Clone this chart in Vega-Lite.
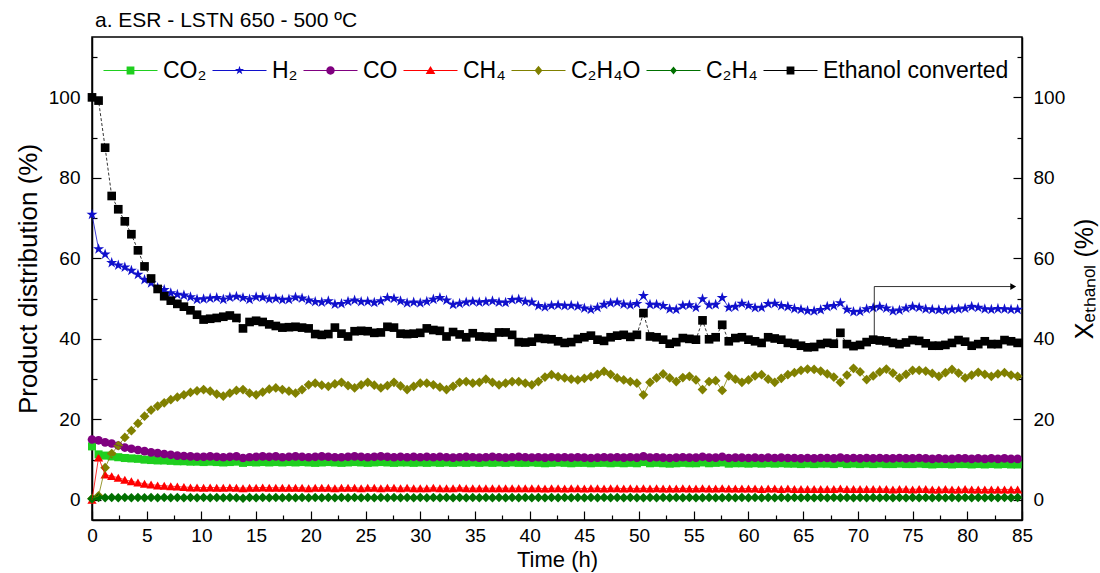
{
  "$schema": "https://vega.github.io/schema/vega-lite/v6.json",
  "width": 930,
  "height": 483,
  "autosize": "none",
  "padding": {"left": 92, "top": 37, "right": 78, "bottom": 53},
  "background": "white",
  "title": {"text": "a. ESR - LSTN 650 - 500 ºC", "anchor": "start", "frame": "group", "fontSize": 21, "fontWeight": "normal", "font": "Liberation Sans", "color": "black", "offset": 6, "dx": 3},
  "config": {
    "view": {"stroke": "black", "strokeWidth": 1.5},
    "font": "Liberation Sans",
    "axis": {"grid": false, "domainColor": "black", "domainWidth": 1.5, "tickColor": "black", "tickWidth": 1.2, "labelColor": "black", "labelFontSize": 19, "labelFont": "Liberation Sans", "titleFont": "Liberation Sans", "titleColor": "black", "titleFontWeight": "normal", "labelFlush": false, "labelOverlap": false}
  },
  "data": {"values": [
{"t":0,"a":13.3,"b":70.9,"c":15.0,"d":0.0,"e":0.3,"f":0.3,"x":100},
{"t":0.6,"a":11.3,"b":62.3,"c":14.8,"d":10.5,"e":1.0,"f":0.6,"x":99.2},
{"t":1.2,"a":11.0,"b":61.0,"c":14.3,"d":6.3,"e":8.0,"f":0.5,"x":87.5},
{"t":1.8,"a":10.8,"b":58.9,"c":14.0,"d":5.9,"e":11.5,"f":0.6,"x":75.5},
{"t":2.4,"a":10.6,"b":58.3,"c":13.5,"d":5.5,"e":13.5,"f":0.5,"x":72.2},
{"t":3.0,"a":10.4,"b":57.8,"c":13.0,"d":5.0,"e":15.5,"f":0.6,"x":69.2},
{"t":3.6,"a":10.3,"b":57.0,"c":12.7,"d":4.6,"e":17.2,"f":0.5,"x":66.0},
{"t":4.2,"a":10.2,"b":56.0,"c":12.4,"d":4.3,"e":19.0,"f":0.6,"x":62.0},
{"t":4.8,"a":10.0,"b":54.7,"c":12.1,"d":4.0,"e":20.8,"f":0.5,"x":58.0},
{"t":5.4,"a":9.9,"b":53.9,"c":11.8,"d":3.8,"e":22.3,"f":0.6,"x":55.0},
{"t":6.0,"a":9.8,"b":52.7,"c":11.6,"d":3.6,"e":23.3,"f":0.5,"x":52.4},
{"t":6.6,"a":9.8,"b":52.2,"c":11.4,"d":3.5,"e":24.1,"f":0.6,"x":50.6},
{"t":7.2,"a":9.7,"b":51.4,"c":11.2,"d":3.4,"e":24.9,"f":0.5,"x":49.5},
{"t":7.8,"a":9.6,"b":51.0,"c":11.0,"d":3.3,"e":25.5,"f":0.6,"x":48.7},
{"t":8.4,"a":9.6,"b":50.8,"c":10.9,"d":3.2,"e":26.1,"f":0.5,"x":48.0},
{"t":9.0,"a":9.5,"b":50.4,"c":10.8,"d":3.1,"e":26.7,"f":0.6,"x":47.1},
{"t":9.6,"a":9.5,"b":49.8,"c":10.7,"d":3.1,"e":27.1,"f":0.5,"x":46.0},
{"t":10.2,"a":9.4,"b":49.9,"c":10.7,"d":3.0,"e":27.4,"f":0.6,"x":44.8},
{"t":10.8,"a":9.5,"b":50.1,"c":10.8,"d":3.1,"e":27.0,"f":0.5,"x":45.0},
{"t":11.4,"a":9.4,"b":50.2,"c":10.7,"d":3.0,"e":26.3,"f":0.6,"x":45.2},
{"t":12.0,"a":9.3,"b":49.8,"c":10.6,"d":3.0,"e":25.8,"f":0.5,"x":45.5},
{"t":12.6,"a":9.4,"b":50.3,"c":10.7,"d":3.1,"e":26.5,"f":0.6,"x":45.8},
{"t":13.2,"a":9.5,"b":50.5,"c":10.8,"d":3.0,"e":27.2,"f":0.5,"x":45.2},
{"t":13.8,"a":9.2,"b":50.2,"c":10.4,"d":2.9,"e":27.4,"f":0.4,"x":42.6},
{"t":14.4,"a":9.4,"b":49.8,"c":10.6,"d":3.0,"e":26.5,"f":0.6,"x":44.2},
{"t":15.0,"a":9.3,"b":50.4,"c":10.7,"d":3.0,"e":26.1,"f":0.5,"x":44.5},
{"t":15.6,"a":9.4,"b":50.3,"c":10.8,"d":3.1,"e":26.8,"f":0.6,"x":44.2},
{"t":16.2,"a":9.3,"b":49.9,"c":10.7,"d":3.0,"e":27.5,"f":0.5,"x":43.6},
{"t":16.8,"a":9.4,"b":50.0,"c":10.8,"d":3.0,"e":27.8,"f":0.6,"x":43.2},
{"t":17.4,"a":9.3,"b":49.7,"c":10.6,"d":3.0,"e":27.4,"f":0.5,"x":42.8},
{"t":18.0,"a":9.4,"b":49.8,"c":10.7,"d":3.0,"e":27.0,"f":0.6,"x":42.9},
{"t":18.6,"a":9.3,"b":50.3,"c":10.8,"d":3.0,"e":26.5,"f":0.5,"x":43.0},
{"t":19.2,"a":9.4,"b":50.1,"c":10.7,"d":3.0,"e":27.4,"f":0.6,"x":42.8},
{"t":19.8,"a":9.3,"b":49.6,"c":10.6,"d":2.9,"e":28.6,"f":0.5,"x":42.6},
{"t":20.4,"a":9.2,"b":49.2,"c":10.7,"d":3.0,"e":29.0,"f":0.6,"x":41.2},
{"t":21.0,"a":9.3,"b":49.1,"c":10.8,"d":3.0,"e":28.5,"f":0.5,"x":41.0},
{"t":21.6,"a":9.4,"b":49.4,"c":10.7,"d":3.0,"e":28.2,"f":0.6,"x":41.2},
{"t":22.2,"a":9.3,"b":48.6,"c":10.6,"d":2.9,"e":28.8,"f":0.5,"x":42.8},
{"t":22.8,"a":9.2,"b":48.7,"c":10.6,"d":3.0,"e":29.2,"f":0.6,"x":41.3},
{"t":23.4,"a":9.3,"b":49.3,"c":10.7,"d":3.0,"e":28.4,"f":0.5,"x":40.6},
{"t":24.0,"a":9.4,"b":49.6,"c":10.8,"d":3.0,"e":27.8,"f":0.6,"x":41.9},
{"t":24.6,"a":9.3,"b":49.2,"c":10.7,"d":2.9,"e":28.6,"f":0.5,"x":42.0},
{"t":25.2,"a":9.2,"b":49.3,"c":10.6,"d":3.0,"e":29.2,"f":0.6,"x":41.9},
{"t":25.8,"a":9.3,"b":49.0,"c":10.7,"d":3.0,"e":28.5,"f":0.5,"x":41.5},
{"t":26.4,"a":9.4,"b":49.4,"c":10.8,"d":2.9,"e":27.8,"f":0.6,"x":41.6},
{"t":27.0,"a":9.3,"b":50.2,"c":10.7,"d":3.0,"e":28.4,"f":0.5,"x":43.0},
{"t":27.6,"a":9.2,"b":50.0,"c":10.6,"d":3.0,"e":29.2,"f":0.6,"x":42.8},
{"t":28.2,"a":9.3,"b":49.4,"c":10.7,"d":2.9,"e":28.3,"f":0.5,"x":41.3},
{"t":28.8,"a":9.3,"b":48.9,"c":10.6,"d":3.0,"e":27.4,"f":0.6,"x":41.2},
{"t":29.4,"a":9.2,"b":49.1,"c":10.7,"d":2.9,"e":28.2,"f":0.5,"x":41.3},
{"t":30.0,"a":9.3,"b":48.9,"c":10.6,"d":2.9,"e":29.0,"f":0.6,"x":41.5},
{"t":30.6,"a":9.2,"b":49.3,"c":10.7,"d":2.9,"e":29.0,"f":0.5,"x":42.6},
{"t":31.2,"a":9.3,"b":49.8,"c":10.6,"d":3.0,"e":28.6,"f":0.6,"x":42.2},
{"t":31.8,"a":9.2,"b":50.2,"c":10.7,"d":2.9,"e":28.0,"f":0.5,"x":42.0},
{"t":32.4,"a":9.3,"b":49.6,"c":10.6,"d":2.9,"e":27.4,"f":0.6,"x":40.6},
{"t":33.0,"a":9.2,"b":48.5,"c":10.5,"d":2.9,"e":28.2,"f":0.5,"x":41.7},
{"t":33.6,"a":9.3,"b":48.8,"c":10.6,"d":3.0,"e":29.2,"f":0.6,"x":41.1},
{"t":34.2,"a":9.2,"b":49.1,"c":10.7,"d":2.9,"e":29.4,"f":0.5,"x":40.4},
{"t":34.8,"a":9.3,"b":49.3,"c":10.6,"d":2.9,"e":29.0,"f":0.6,"x":41.4},
{"t":35.4,"a":9.2,"b":49.1,"c":10.5,"d":2.9,"e":29.2,"f":0.5,"x":40.6},
{"t":36.0,"a":9.3,"b":49.2,"c":10.6,"d":2.9,"e":30.0,"f":0.6,"x":40.5},
{"t":36.6,"a":9.2,"b":49.4,"c":10.7,"d":2.9,"e":29.2,"f":0.5,"x":40.4},
{"t":37.2,"a":9.3,"b":49.1,"c":10.6,"d":2.9,"e":28.6,"f":0.6,"x":41.6},
{"t":37.8,"a":9.2,"b":49.0,"c":10.5,"d":2.9,"e":29.0,"f":0.5,"x":41.6},
{"t":38.4,"a":9.3,"b":49.7,"c":10.6,"d":2.9,"e":29.4,"f":0.6,"x":41.0},
{"t":39.0,"a":9.2,"b":49.8,"c":10.7,"d":2.9,"e":29.4,"f":0.5,"x":39.2},
{"t":39.6,"a":9.2,"b":49.3,"c":10.6,"d":2.9,"e":29.0,"f":0.6,"x":39.1},
{"t":40.2,"a":9.3,"b":49.1,"c":10.5,"d":2.9,"e":28.6,"f":0.5,"x":39.3},
{"t":40.8,"a":9.2,"b":48.2,"c":10.6,"d":2.9,"e":29.4,"f":0.6,"x":40.2},
{"t":41.4,"a":9.1,"b":47.9,"c":10.5,"d":2.8,"e":30.5,"f":0.5,"x":40.0},
{"t":42.0,"a":9.2,"b":48.3,"c":10.6,"d":2.9,"e":31.1,"f":0.6,"x":39.9},
{"t":42.6,"a":9.3,"b":48.4,"c":10.5,"d":2.9,"e":30.6,"f":0.5,"x":39.4},
{"t":43.2,"a":9.2,"b":48.2,"c":10.6,"d":2.8,"e":30.3,"f":0.6,"x":39.0},
{"t":43.8,"a":9.1,"b":48.3,"c":10.5,"d":2.9,"e":30.0,"f":0.5,"x":39.2},
{"t":44.4,"a":9.2,"b":48.1,"c":10.6,"d":2.9,"e":29.8,"f":0.6,"x":40.0},
{"t":45.0,"a":9.2,"b":47.6,"c":10.5,"d":2.8,"e":30.2,"f":0.5,"x":40.4},
{"t":45.6,"a":9.1,"b":47.3,"c":10.4,"d":2.9,"e":30.6,"f":0.6,"x":40.8},
{"t":46.2,"a":9.2,"b":47.8,"c":10.5,"d":2.9,"e":31.2,"f":0.5,"x":39.8},
{"t":46.8,"a":9.2,"b":48.5,"c":10.6,"d":2.8,"e":31.9,"f":0.6,"x":39.5},
{"t":47.4,"a":9.1,"b":48.9,"c":10.5,"d":2.9,"e":31.2,"f":0.5,"x":40.4},
{"t":48.0,"a":9.2,"b":49.1,"c":10.6,"d":2.9,"e":30.3,"f":0.6,"x":40.8},
{"t":48.6,"a":9.1,"b":48.6,"c":10.5,"d":2.8,"e":29.8,"f":0.5,"x":41.0},
{"t":49.2,"a":9.2,"b":48.4,"c":10.6,"d":2.9,"e":29.4,"f":0.6,"x":40.5},
{"t":49.8,"a":9.1,"b":48.7,"c":10.5,"d":2.8,"e":29.0,"f":0.5,"x":41.0},
{"t":50.4,"a":9.4,"b":50.7,"c":10.8,"d":2.9,"e":26.1,"f":0.5,"x":46.4},
{"t":51.0,"a":9.1,"b":48.5,"c":10.5,"d":2.8,"e":29.2,"f":0.6,"x":40.6},
{"t":51.6,"a":9.2,"b":48.5,"c":10.6,"d":2.9,"e":30.3,"f":0.5,"x":40.4},
{"t":52.2,"a":9.1,"b":48.2,"c":10.5,"d":2.8,"e":31.3,"f":0.6,"x":39.8},
{"t":52.8,"a":9.0,"b":47.4,"c":10.4,"d":2.8,"e":30.3,"f":0.5,"x":38.8},
{"t":53.4,"a":9.1,"b":47.3,"c":10.5,"d":2.8,"e":29.4,"f":0.6,"x":39.2},
{"t":54.0,"a":9.2,"b":48.3,"c":10.6,"d":2.9,"e":30.4,"f":0.5,"x":40.2},
{"t":54.6,"a":9.1,"b":48.4,"c":10.5,"d":2.8,"e":30.7,"f":0.6,"x":40.0},
{"t":55.2,"a":9.1,"b":47.8,"c":10.5,"d":2.8,"e":29.8,"f":0.5,"x":39.8},
{"t":55.8,"a":9.3,"b":49.9,"c":10.7,"d":2.9,"e":27.4,"f":0.5,"x":44.6},
{"t":56.4,"a":9.1,"b":48.4,"c":10.5,"d":2.8,"e":29.4,"f":0.6,"x":39.9},
{"t":57.0,"a":9.2,"b":48.5,"c":10.5,"d":2.8,"e":29.6,"f":0.5,"x":40.4},
{"t":57.6,"a":9.3,"b":50.2,"c":10.7,"d":2.9,"e":27.2,"f":0.5,"x":43.5},
{"t":58.2,"a":9.0,"b":47.8,"c":10.4,"d":2.8,"e":30.8,"f":0.6,"x":39.4},
{"t":58.8,"a":9.1,"b":48.0,"c":10.5,"d":2.8,"e":30.0,"f":0.5,"x":40.2},
{"t":59.4,"a":9.1,"b":48.8,"c":10.5,"d":2.8,"e":29.2,"f":0.6,"x":40.4},
{"t":60.0,"a":9.0,"b":48.3,"c":10.4,"d":2.8,"e":29.8,"f":0.5,"x":39.8},
{"t":60.6,"a":9.1,"b":47.7,"c":10.5,"d":2.8,"e":30.8,"f":0.6,"x":39.4},
{"t":61.2,"a":9.0,"b":47.8,"c":10.4,"d":2.7,"e":31.1,"f":0.5,"x":39.0},
{"t":61.8,"a":9.1,"b":48.7,"c":10.5,"d":2.8,"e":30.0,"f":0.6,"x":40.4},
{"t":62.4,"a":9.0,"b":48.8,"c":10.4,"d":2.8,"e":29.2,"f":0.5,"x":40.1},
{"t":63.0,"a":9.1,"b":48.2,"c":10.5,"d":2.7,"e":30.2,"f":0.6,"x":39.8},
{"t":63.6,"a":9.0,"b":48.0,"c":10.4,"d":2.8,"e":31.1,"f":0.5,"x":39.0},
{"t":64.2,"a":9.0,"b":47.5,"c":10.4,"d":2.7,"e":31.6,"f":0.6,"x":38.8},
{"t":64.8,"a":8.9,"b":47.3,"c":10.3,"d":2.7,"e":32.2,"f":0.5,"x":38.3},
{"t":65.4,"a":9.0,"b":47.0,"c":10.4,"d":2.7,"e":32.5,"f":0.6,"x":37.9},
{"t":66.0,"a":8.9,"b":46.9,"c":10.3,"d":2.7,"e":32.4,"f":0.5,"x":38.0},
{"t":66.6,"a":9.0,"b":47.2,"c":10.4,"d":2.7,"e":32.0,"f":0.6,"x":38.7},
{"t":67.2,"a":9.0,"b":48.0,"c":10.4,"d":2.7,"e":31.3,"f":0.5,"x":39.0},
{"t":67.8,"a":8.9,"b":48.2,"c":10.3,"d":2.7,"e":30.5,"f":0.6,"x":38.8},
{"t":68.4,"a":9.1,"b":48.9,"c":10.5,"d":2.8,"e":29.2,"f":0.5,"x":41.5},
{"t":69.0,"a":8.9,"b":47.3,"c":10.3,"d":2.7,"e":31.0,"f":0.6,"x":38.7},
{"t":69.6,"a":9.0,"b":46.7,"c":10.4,"d":2.7,"e":32.7,"f":0.5,"x":38.2},
{"t":70.2,"a":8.9,"b":46.8,"c":10.3,"d":2.7,"e":31.8,"f":0.6,"x":38.5},
{"t":70.8,"a":9.0,"b":47.4,"c":10.4,"d":2.7,"e":29.9,"f":0.5,"x":39.2},
{"t":71.4,"a":8.9,"b":47.7,"c":10.3,"d":2.7,"e":30.8,"f":0.6,"x":39.8},
{"t":72.0,"a":9.0,"b":48.0,"c":10.4,"d":2.7,"e":31.8,"f":0.5,"x":39.6},
{"t":72.6,"a":8.9,"b":47.6,"c":10.3,"d":2.7,"e":32.5,"f":0.6,"x":39.4},
{"t":73.2,"a":8.9,"b":46.9,"c":10.3,"d":2.6,"e":31.5,"f":0.5,"x":39.0},
{"t":73.8,"a":9.0,"b":47.1,"c":10.4,"d":2.7,"e":30.3,"f":0.6,"x":38.7},
{"t":74.4,"a":8.9,"b":47.6,"c":10.3,"d":2.7,"e":31.2,"f":0.5,"x":39.1},
{"t":75.0,"a":8.9,"b":48.0,"c":10.3,"d":2.6,"e":32.2,"f":0.6,"x":39.7},
{"t":75.6,"a":9.0,"b":47.8,"c":10.4,"d":2.7,"e":32.2,"f":0.5,"x":39.5},
{"t":76.2,"a":8.9,"b":47.4,"c":10.3,"d":2.7,"e":32.0,"f":0.6,"x":38.9},
{"t":76.8,"a":8.8,"b":47.3,"c":10.2,"d":2.6,"e":31.4,"f":0.5,"x":38.3},
{"t":77.4,"a":8.9,"b":47.2,"c":10.3,"d":2.6,"e":30.7,"f":0.6,"x":38.3},
{"t":78.0,"a":8.9,"b":47.1,"c":10.2,"d":2.7,"e":31.6,"f":0.5,"x":38.5},
{"t":78.6,"a":8.8,"b":47.3,"c":10.2,"d":2.6,"e":32.4,"f":0.6,"x":39.0},
{"t":79.2,"a":8.9,"b":47.4,"c":10.3,"d":2.6,"e":31.5,"f":0.5,"x":39.7},
{"t":79.8,"a":8.9,"b":47.6,"c":10.3,"d":2.7,"e":30.3,"f":0.6,"x":39.3},
{"t":80.4,"a":8.8,"b":48.0,"c":10.2,"d":2.6,"e":31.0,"f":0.5,"x":38.3},
{"t":81.0,"a":8.9,"b":47.8,"c":10.3,"d":2.6,"e":31.7,"f":0.6,"x":38.7},
{"t":81.6,"a":8.8,"b":47.4,"c":10.2,"d":2.6,"e":31.2,"f":0.5,"x":39.4},
{"t":82.2,"a":8.9,"b":47.3,"c":10.3,"d":2.6,"e":30.7,"f":0.6,"x":38.7},
{"t":82.8,"a":8.8,"b":47.5,"c":10.2,"d":2.6,"e":31.3,"f":0.5,"x":38.7},
{"t":83.4,"a":8.9,"b":47.4,"c":10.3,"d":2.6,"e":31.6,"f":0.6,"x":39.7},
{"t":84.0,"a":8.8,"b":47.3,"c":10.2,"d":2.6,"e":31.0,"f":0.5,"x":39.4},
{"t":84.6,"a":8.8,"b":47.3,"c":10.2,"d":2.6,"e":30.7,"f":0.6,"x":39.0}
  ]},
  "resolve": {"scale": {"y": "independent"}},
  "layer": [
    {
      "transform": [{"fold": ["a", "b", "c", "d", "e", "f"]}],
      "encoding": {
        "x": {"field": "t", "type": "quantitative", "scale": {"domain": [0, 85], "nice": false, "zero": false},
          "axis": {"title": "Time (h)", "titleFontSize": 22, "titlePadding": 0,
            "values": [0,2.5,5,7.5,10,12.5,15,17.5,20,22.5,25,27.5,30,32.5,35,37.5,40,42.5,45,47.5,50,52.5,55,57.5,60,62.5,65,67.5,70,72.5,75,77.5,80,82.5,85],
            "labelExpr": "datum.value % 5 === 0 ? datum.label : ''",
            "tickSize": {"condition": {"test": "datum.value % 5 === 0", "value": -9}, "value": -5},
            "labelPadding": 15}},
        "y": {"field": "value", "type": "quantitative", "scale": {"domain": [-5, 115], "nice": false, "zero": false},
          "axis": {"orient": "left", "title": "Product distribution (%)", "titleFontSize": 26, "titlePadding": 7,
            "values": [0,10,20,30,40,50,60,70,80,90,100,110],
            "labelExpr": "datum.value % 20 === 0 ? datum.label : ''",
            "tickSize": {"condition": {"test": "datum.value % 20 === 0", "value": -9}, "value": -5},
            "labelPadding": 21}},
        "color": {"field": "key", "type": "nominal",
          "scale": {"domain": ["a", "b", "c", "d", "e", "f", "x"], "range": ["#1fcf1f", "#1010cc", "#800080", "#ff0000", "#808000", "#007000", "#000000"]},
          "legend": {
            "orient": "none", "legendX": 12, "legendY": 22, "direction": "horizontal", "columns": 7, "gridAlign": "none", "title": null,
            "labelFontSize": 23, "labelFont": "Liberation Sans", "labelColor": "black", "labelLimit": 0,
            "symbolSize": 36, "symbolOffset": 15, "labelOffset": 21, "columnPadding": 5, "symbolStrokeWidth": 0, "symbolOpacity": 1,
            "labelExpr": "{'a':'CO₂','b':'H₂','c':'CO','d':'CH₄','e':'C₂H₄O','f':'C₂H₄','x':'Ethanol converted'}[datum.value]",
            "symbolType": {"expr": "{'a':'M-9,-0.17H9V0.17H-9ZM-1.3,-1.3H1.3V1.3H-1.3Z','b':'M-9,-0.17H9V0.17H-9ZM0,-1.6L0.36,-0.5L1.52,-0.49L0.59,0.19L0.94,1.29L0,0.62L-0.94,1.29L-0.59,0.19L-1.52,-0.49L-0.36,-0.5Z','c':'M-9,-0.17H9V0.17H-9ZM-1.4,0A1.4,1.4 0 1,1 1.4,0A1.4,1.4 0 1,1 -1.4,0Z','d':'M-9,-0.17H9V0.17H-9ZM0,-1.5L1.6,1.2H-1.6Z','e':'M-9,-0.17H9V0.17H-9ZM0,-1.6L1.3,0L0,1.6L-1.3,0Z','f':'M-9,-0.17H9V0.17H-9ZM0,-1.3L1.1,0L0,1.3L-1.1,0Z','x':'M-9,-0.17H9V0.17H-9ZM-1.3,-1.3H1.3V1.3H-1.3Z'}[datum.value]"}
          }}
      },
      "layer": [
        {"transform": [{"filter": "datum.key === 'a'"}], "mark": {"type": "point", "filled": true, "opacity": 1, "shape": "square", "size": 65}},
        {"transform": [{"filter": "datum.key === 'b'"}], "mark": {"type": "point", "filled": true, "opacity": 1, "shape": "M0,-1.3L0.294,-0.405L1.236,-0.402L0.476,0.155L0.764,1.052L0,0.5L-0.764,1.052L-0.476,0.155L-1.236,-0.402L-0.294,-0.405Z", "size": 80}},
        {"transform": [{"filter": "datum.key === 'c'"}], "mark": {"type": "point", "filled": true, "opacity": 1, "shape": "circle", "size": 75}},
        {"transform": [{"filter": "datum.key === 'd'"}], "mark": {"type": "point", "filled": true, "opacity": 1, "shape": "triangle-up", "size": 85}},
        {"transform": [{"filter": "datum.key === 'e'"}], "mark": {"type": "point", "filled": true, "opacity": 1, "shape": "diamond", "size": 95}},
        {"transform": [{"filter": "datum.key === 'f'"}], "mark": {"type": "point", "filled": true, "opacity": 1, "shape": "diamond", "size": 90}},
        {"mark": {"type": "line", "strokeWidth": 0.8}}
      ]
    },
    {
      "transform": [{"fold": ["x"]}],
      "encoding": {
        "x": {"field": "t", "type": "quantitative", "scale": {"domain": [0, 85], "nice": false, "zero": false},
          "axis": {"title": "Time (h)", "titleFontSize": 22, "titlePadding": 0,
            "values": [0,2.5,5,7.5,10,12.5,15,17.5,20,22.5,25,27.5,30,32.5,35,37.5,40,42.5,45,47.5,50,52.5,55,57.5,60,62.5,65,67.5,70,72.5,75,77.5,80,82.5,85],
            "labelExpr": "datum.value % 5 === 0 ? datum.label : ''",
            "tickSize": {"condition": {"test": "datum.value % 5 === 0", "value": -9}, "value": -5},
            "labelPadding": 15}},
        "y": {"field": "value", "type": "quantitative", "scale": {"domain": [-5, 115], "nice": false, "zero": false},
          "axis": {"orient": "right", "title": "Xₑₜₕₐₙₒₗ (%)", "titleFontSize": 25, "titleAngle": -90, "titleBaseline": "top", "titlePadding": 8,
            "values": [0,10,20,30,40,50,60,70,80,90,100,110],
            "labelExpr": "datum.value % 20 === 0 ? datum.label : ''",
            "tickSize": {"condition": {"test": "datum.value % 20 === 0", "value": -9}, "value": -5},
            "labelPadding": 20}}
      },
      "layer": [
        {
          "mark": {"type": "point", "filled": true, "opacity": 1, "shape": "square", "size": 75},
          "encoding": {"color": {"field": "key", "type": "nominal"}}
        },
        {
          "mark": {"type": "line", "strokeWidth": 0.8, "strokeDash": [3, 2]},
          "encoding": {"color": {"field": "key", "type": "nominal"}}
        },
        {
          "data": {"values": [{"t": 71.5, "value": 40.3, "t2": 71.5, "value2": 53}, {"t": 71.5, "value": 53, "t2": 84, "value2": 53}]},
          "transform": [],
          "mark": {"type": "rule", "color": "black", "strokeWidth": 0.8},
          "encoding": {"x2": {"field": "t2"}, "y2": {"field": "value2"}}
        },
        {
          "data": {"values": [{"t": 84.2, "value": 53}]},
          "mark": {"type": "point", "shape": "triangle-right", "filled": true, "color": "black", "size": 45, "opacity": 1},
          "encoding": {}
        }
      ]
    }
  ]
}
